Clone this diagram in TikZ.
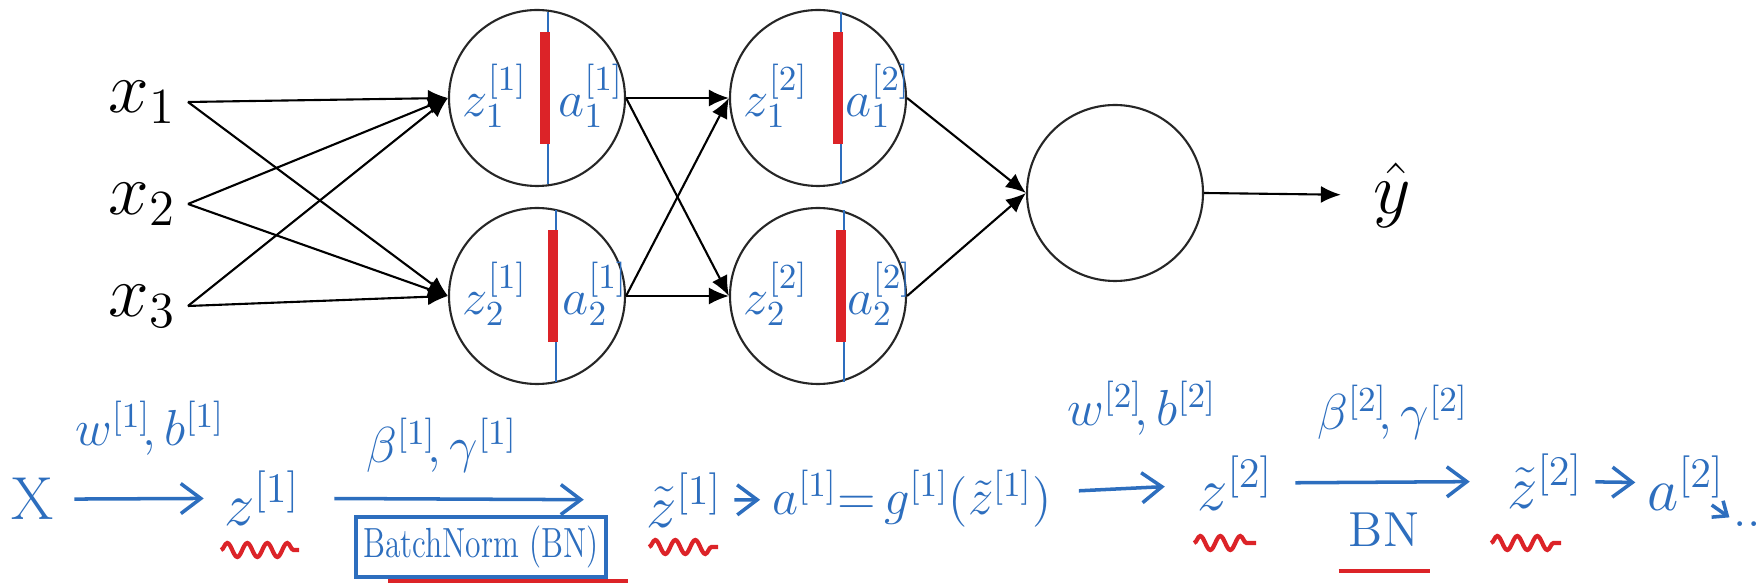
\documentclass[tikz,border=0pt]{standalone}
\usetikzlibrary{arrows.meta,calc,decorations.pathmorphing}
\definecolor{penblue}{RGB}{45,110,190}
\definecolor{penred}{RGB}{220,35,40}
\begin{document}
\begin{tikzpicture}[
    neuron/.style={circle,draw=black!85,line width=0.6pt,minimum size=1.76cm,inner sep=0pt},
    feed/.style={line width=0.6pt,-{Latex[length=2mm,width=1.7mm]}},
    big/.style={font=\fontsize{20}{24}\selectfont},
    pen/.style={text=penblue,font=\fontsize{18}{22}\selectfont},
    smallpen/.style={text=penblue,font=\fontsize{14}{17}\selectfont},
    cellpen/.style={text=penblue,font=\fontsize{14}{17}\selectfont,inner sep=1pt},
    penline/.style={draw=penblue,line width=1pt,-{Straight Barb[length=2mm,width=3mm]}},
    squiggle/.style={draw=penred,line width=1.2pt,decorate,
        decoration={snake,segment length=2mm,amplitude=0.7mm}},
    redbar/.style={draw=penred,line width=2.6pt},
  ]
  \useasboundingbox (0,0) rectangle (17.59,-5.84);
  \def\ya{-0.98}
  \def\yb{-2.96}
  % the network
  \node[big] (x1) at (1.42,-1.02) {$x_1$};
  \node[big] (x2) at (1.42,-2.04) {$x_2$};
  \node[big] (x3) at (1.42,-3.06) {$x_3$};
  \node[neuron] (h11) at (5.37,\ya) {};
  \node[neuron] (h12) at (5.37,\yb) {};
  \node[neuron] (h21) at (8.18,\ya) {};
  \node[neuron] (h22) at (8.18,\yb) {};
  \node[neuron] (out) at (11.15,-1.93) {};
  \node[big] (yhat) at (13.92,-1.95) {$\hat{y}$};
  \foreach \i in {1,2,3}
    {\foreach \j in {1,2}
      {\draw[feed] (x\i.east) -- (h1\j.west);}}
  \foreach \i in {1,2}
    {\foreach \j in {1,2}
      {\draw[feed] (h1\i.east) -- (h2\j.west);}
     \draw[feed] (h2\i.east) -- (out.west);}
  \draw[feed,shorten >=0.2cm] (out.east) -- (yhat.west);
  % pen notes in the hidden units
  \foreach \n/\l/\k/\dx in {h11/1/1/0.08,h12/1/2/0.16,h21/2/1/0.2,h22/2/2/0.23}
    {\draw[penblue,line width=0.6pt]
        ($(\n)+(\dx+0.03,0.86)$) -- ($(\n)+(\dx+0.03,-0.86)$);
     \draw[redbar] ($(\n)+(\dx,0.66)$) -- ($(\n)+(\dx,-0.46)$);
     \node[cellpen] (\n-z) at ($(\n)+(-0.42,0.02)$) {$z^{[\l]}_{\k}$};
     \node[cellpen] (\n-a) at ($(\n)+(0.5*\dx+0.5,0.02)$) {$a^{[\l]}_{\k}$};}
  % the chain written below
  \node[pen,anchor=base] (bX) at (0.33,-5.20) {$\mathrm{X}$};
  \node[pen,anchor=base] (bz1) at (2.62,-5.25) {$z^{[1]}$};
  \node[pen,anchor=base] (btz1) at (6.84,-5.27) {$\tilde{z}^{[1]}$};
  \node[smallpen,anchor=base] (ba1) at (9.12,-5.15)
    {$a^{[1]}{=}\,g^{[1]}(\tilde{z}^{[1]})$};
  \node[pen,anchor=base] (bz2) at (12.35,-5.10) {$z^{[2]}$};
  \node[pen,anchor=base] (btz2) at (15.45,-5.08) {$\tilde{z}^{[2]}$};
  \node[pen,anchor=base] (ba2) at (16.86,-5.10) {$a^{[2]}$};
  \node[smallpen,inner sep=1pt] (bdots) at (17.47,-5.24) {..};
  \draw[penline,shorten <=0.08cm,shorten >=0.08cm] (bX) -- (bz1);
  \draw[penline,shorten <=0.22cm,shorten >=0.5cm] (bz1) -- (btz1);
  \draw[penline] (btz1) -- (ba1);
  \draw[penline,shorten <=0.15cm,shorten >=0.2cm] (ba1) -- (bz2);
  \draw[penline,shorten <=0.1cm,shorten >=0.25cm] (bz2) -- (btz2);
  \draw[penline] (btz2) -- (ba2);
  \draw[penline,-{Straight Barb[length=1.2mm,width=2mm]}]
    ([shift={(-0.25,0.05)}]ba2.base east) -- (bdots.north west);
  \node[smallpen] (lw1) at (1.50,-4.28) {$w^{[1]}\!,b^{[1]}$};
  \node[smallpen] (lbg1) at (4.42,-4.45) {$\beta^{[1]}\!,\gamma^{[1]}$};
  \node[text=penblue,font=\fontsize{12}{14}\selectfont,draw=penblue,line width=1pt,
    minimum width=2.5cm,minimum height=0.6cm,inner sep=1pt]
    (bn1) at (4.81,-5.47) {\scalebox{0.75}[1]{BatchNorm (BN)}};
  \node[smallpen] (lw2) at (11.42,-4.08) {$w^{[2]}\!,b^{[2]}$};
  \node[smallpen] (lbg2) at (13.93,-4.12) {$\beta^{[2]}\!,\gamma^{[2]}$};
  \node[smallpen] (lbn2) at (13.84,-5.30) {BN};
  % red marks
  \draw[penred,line width=1.2pt]
    ([shift={(0.34,-0.02)}]bn1.south west) -- ([shift={(0.2,-0.02)}]bn1.south east);
  \draw[penred,line width=1.2pt]
    ([shift={(0.02,-0.12)}]lbn2.south west) -- ([shift={(-0.02,-0.12)}]lbn2.south east);
  \foreach \xa/\xb/\y in {2.21/2.99/-5.50,6.49/7.18/-5.47,11.94/12.56/-5.43,14.91/15.61/-5.43}
    {\draw[squiggle] (\xa,\y) -- (\xb,\y);}
\end{tikzpicture}
\end{document}
